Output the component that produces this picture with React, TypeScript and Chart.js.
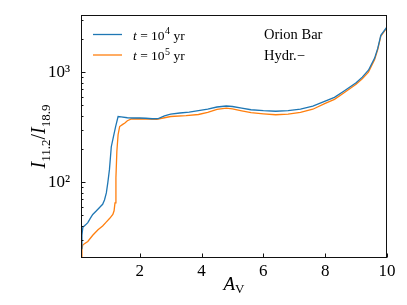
import React, { useEffect, useRef } from 'react';
import { Chart, registerables } from 'chart.js';

Chart.register(...registerables);

// A_V grid and I11.2/I18.9 ratio for t = 1e4 yr
const avT4 = [0.1, 0.13, 0.16, 0.25, 0.32, 0.4, 0.48, 0.6, 0.7, 0.8, 0.86, 0.92, 0.97, 1.02, 1.08, 1.15, 1.22, 1.3, 1.4, 1.6, 1.8, 2.0, 2.2, 2.4, 2.6, 2.8, 3.0, 3.3, 3.6, 3.9, 4.2, 4.5, 4.8, 5.0, 5.3, 5.6, 6.0, 6.4, 6.8, 7.2, 7.6, 8.0, 8.3, 8.6, 9.0, 9.2, 9.4, 9.6, 9.7, 9.8, 10.0];
const ratioT4 = [25, 33, 39, 41, 43, 47, 51, 55, 59, 63, 69, 80, 100, 130, 210, 260, 320, 395, 392, 385, 383, 383, 381, 377, 378, 400, 415, 425, 433, 447, 460, 482, 492, 487, 470, 455, 446, 441, 446, 460, 490, 545, 590, 670, 800, 900, 1040, 1340, 1640, 2160, 2570];

// t = 1e5 yr
const avT5 = [0.1, 0.13, 0.16, 0.32, 0.48, 0.65, 0.8, 0.9, 1.03, 1.13, 1.17, 1.2, 1.23, 1.26, 1.3, 1.35, 1.45, 1.52, 1.6, 1.73, 2.0, 2.3, 2.55, 2.8, 3.0, 3.5, 3.9, 4.2, 4.5, 4.8, 5.0, 5.3, 5.6, 6.0, 6.4, 6.8, 7.2, 7.6, 8.0, 8.3, 8.6, 9.0, 9.2, 9.4, 9.6, 9.7, 9.8, 10.0];
const ratioT5 = [21, 25, 27, 29, 33, 37, 40, 43, 47, 51, 55, 65, 110, 190, 270, 320, 335, 345, 362, 375, 377, 375, 372, 385, 395, 403, 412, 430, 458, 470, 463, 445, 428, 418, 410, 415, 430, 460, 520, 565, 645, 775, 870, 1000, 1300, 1600, 2120, 2540];

const seriesExponents = ['4', '5'];
const seriesColors = ['#1f77b4', '#ff7f0e'];
const annotationLines = ['Orion Bar', 'Hydr.\u2212'];

const xTicks = [2, 4, 6, 8, 10];
const yMajorTicks = [100, 1000];
const yMajorLabels = ['10\u00b2', '10\u00b3'];
const yMinorTicks = [30, 40, 50, 60, 70, 80, 90, 200, 300, 400, 500, 600, 700, 800, 900, 2000, 3000];

const X_MIN = 0.1;
const X_MAX = 10;
const Y_MIN = 20.5;
const Y_MAX = 3300;

const SERIF = '"Liberation Serif", "DejaVu Serif", serif';

const overlayPlugin = {
  id: 'overlay',
  afterDraw(chart: any) {
    const { ctx, chartArea: a, scales } = chart;
    const xs = scales.x;
    const ys = scales.y;
    ctx.save();

    // frame
    const L = Math.round(a.left) + 0.5;
    const R = Math.round(a.right) - 0.5;
    const T = Math.round(a.top) + 0.5;
    const B = Math.round(a.bottom) - 0.5;
    ctx.strokeStyle = '#111';
    ctx.lineWidth = 1;
    ctx.strokeRect(L, T, R - L, B - T);

    // inward ticks
    ctx.beginPath();
    xTicks.forEach((v) => {
      const px = Math.round(xs.getPixelForValue(v)) + 0.5;
      ctx.moveTo(px, B);
      ctx.lineTo(px, B - 4);
    });
    yMajorTicks.forEach((v) => {
      const py = Math.round(ys.getPixelForValue(v)) + 0.5;
      ctx.moveTo(L, py);
      ctx.lineTo(L + 4, py);
    });
    yMinorTicks.forEach((v) => {
      const py = Math.round(ys.getPixelForValue(v)) + 0.5;
      ctx.moveTo(L, py);
      ctx.lineTo(L + 2, py);
    });
    ctx.stroke();

    // legend
    ctx.textBaseline = 'alphabetic';
    ctx.textAlign = 'left';
    seriesExponents.forEach((exp, i) => {
      const lineY = a.top + 19.5 + i * 20.5;
      const base = a.top + 24.5 + i * 20.5;
      ctx.strokeStyle = seriesColors[i];
      ctx.lineWidth = 1.3;
      ctx.beginPath();
      ctx.moveTo(a.left + 12, lineY);
      ctx.lineTo(a.left + 41, lineY);
      ctx.stroke();
      ctx.fillStyle = '#000';
      let cx = a.left + 52;
      ctx.font = `italic 13.5px ${SERIF}`;
      ctx.fillText('t', cx, base);
      cx += ctx.measureText('t').width;
      ctx.font = `13.5px ${SERIF}`;
      ctx.fillText(' = 10', cx, base);
      cx += ctx.measureText(' = 10').width;
      ctx.font = `10px ${SERIF}`;
      ctx.fillText(exp, cx + 0.5, base - 5.5);
      cx += ctx.measureText(exp).width + 0.5;
      ctx.font = `13.5px ${SERIF}`;
      ctx.fillText(' yr', cx, base);
    });

    // annotation
    ctx.font = `14.5px ${SERIF}`;
    ctx.fillStyle = '#000';
    annotationLines.forEach((t, i) => {
      ctx.fillText(t, 264, a.top + 24 + i * 21);
    });

    // x title: A_V
    {
      ctx.font = `italic 19px ${SERIF}`;
      const wA = ctx.measureText('A').width;
      ctx.font = `13px ${SERIF}`;
      const wV = ctx.measureText('V').width;
      const cxm = (a.left + a.right) / 2;
      let cx = cxm - (wA + wV) / 2;
      ctx.font = `italic 19px ${SERIF}`;
      ctx.fillText('A', cx, 290);
      cx += wA;
      ctx.font = `13px ${SERIF}`;
      ctx.fillText('V', cx, 293);
    }

    // y title: I_{11.2}/I_{18.9}
    {
      const parts: [string, string, number][] = [
        ['I', `italic 20px ${SERIF}`, 0],
        ['11.2', `13px ${SERIF}`, 5],
        ['/', `20px ${SERIF}`, 0],
        ['I', `italic 20px ${SERIF}`, 0],
        ['18.9', `13px ${SERIF}`, 5],
      ];
      let total = 0;
      const widths = parts.map(([t, f]) => {
        ctx.font = f;
        const w = ctx.measureText(t).width;
        total += w;
        return w;
      });
      ctx.translate(45, (a.top + a.bottom) / 2);
      ctx.rotate(-Math.PI / 2);
      let cx = -total / 2;
      parts.forEach(([t, f, dy], i) => {
        ctx.font = f;
        ctx.fillText(t, cx, dy);
        cx += widths[i];
      });
    }

    ctx.restore();
  },
};

export default function App() {
  const canvasRef = useRef<HTMLCanvasElement | null>(null);

  useEffect(() => {
    document.body.style.margin = '0';
    const canvas = canvasRef.current;
    if (!canvas) return;
    const chart = new Chart(canvas, {
      type: 'line',
      data: {
        datasets: [
          {
            label: 't = 10^4 yr',
            data: avT4.map((x, i) => ({ x, y: ratioT4[i] })),
            borderColor: seriesColors[0],
            borderWidth: 1.3,
            pointRadius: 0,
            fill: false,
            tension: 0,
          },
          {
            label: 't = 10^5 yr',
            data: avT5.map((x, i) => ({ x, y: ratioT5[i] })),
            borderColor: seriesColors[1],
            borderWidth: 1.3,
            pointRadius: 0,
            fill: false,
            tension: 0,
          },
        ],
      },
      options: {
        responsive: false,
        animation: false,
        devicePixelRatio: 1,
        layout: { padding: { top: 15, right: 20, left: 0, bottom: 0 } },
        plugins: { legend: { display: false }, tooltip: { enabled: false } },
        scales: {
          x: {
            type: 'linear',
            min: X_MIN,
            max: X_MAX,
            grid: { display: false },
            border: { display: false },
            afterBuildTicks: (s: any) => {
              s.ticks = xTicks.map((v) => ({ value: v }));
            },
            afterFit: (s: any) => {
              s.height = 47;
            },
            ticks: {
              autoSkip: false,
              maxRotation: 0,
              padding: -5,
              color: '#000',
              font: { family: SERIF, size: 17 },
              callback: (v: any) => String(v),
            },
          },
          y: {
            type: 'logarithmic',
            min: Y_MIN,
            max: Y_MAX,
            grid: { display: false },
            border: { display: false },
            afterBuildTicks: (s: any) => {
              s.ticks = yMajorTicks.map((v) => ({ value: v }));
            },
            afterFit: (s: any) => {
              s.width = 81;
            },
            ticks: {
              autoSkip: false,
              padding: 3,
              color: '#000',
              font: { family: SERIF, size: 17 },
              callback: (v: any) => {
                const idx = yMajorTicks.indexOf(Number(v));
                return idx >= 0 ? yMajorLabels[idx] : '';
              },
            },
          },
        },
      },
      plugins: [overlayPlugin],
    } as any);
    return () => chart.destroy();
  }, []);

  return (
    <div style={{ position: 'absolute', left: 0, top: 0, width: 407, height: 305 }}>
      <canvas ref={canvasRef} width={407} height={305} style={{ width: 407, height: 305 }} />
    </div>
  );
}
